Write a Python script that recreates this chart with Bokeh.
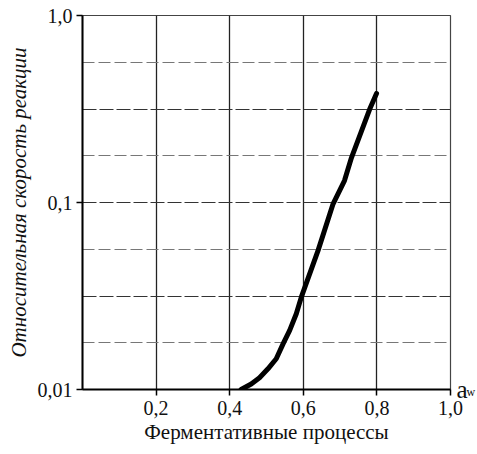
from bokeh.plotting import figure
from bokeh.models import FixedTicker, Range1d, Grid, LogAxis, LogScale
from bokeh.embed import file_html
from bokeh.resources import INLINE

# data
aw = [0.431, 0.4585, 0.481, 0.504, 0.5265, 0.545, 0.563, 0.581, 0.5946,
      0.640, 0.681, 0.712, 0.731, 0.780, 0.799]
rate = [0.0100, 0.0107, 0.01155, 0.0129, 0.0146, 0.01754, 0.0207, 0.0254, 0.0312,
        0.0553, 0.0984, 0.131, 0.174, 0.314, 0.383]

x_ticks = [0.2, 0.4, 0.6, 0.8, 1.0]
x_tick_labels = ["0,2", "0,4", "0,6", "0,8", "1,0"]
y_ticks = [0.01, 0.1, 1.0]
y_tick_labels = ["0,01", "0,1", "1,0"]
y_grid_main = [0.0316, 0.1, 0.316]
y_grid_minor = [0.0178, 0.0562, 0.178, 0.562]
x_min, x_max = 0.0, 1.0
y_min, y_max = 0.01, 1.0

FONT = "Liberation Serif"
FRAME_H = 374
# small upward shift (in px) of the subscript "w" of the a_w label
w_shift = 10 ** (-6 / (FRAME_H / 2))

p = figure(frame_width=368, frame_height=FRAME_H, y_axis_type="log",
           x_range=Range1d(x_min, x_max), y_range=Range1d(y_min, y_max),
           output_backend="svg", toolbar_location=None,
           min_border_left=82, min_border_right=20, min_border_top=15,
           min_border_bottom=60, background_fill_color="white",
           border_fill_color="white")
p.extra_y_ranges = {"w": Range1d(y_min * w_shift, y_max * w_shift)}
p.extra_y_scales = {"w": LogScale()}

p.outline_line_color = "#444444"
p.outline_line_width = 1.2

# grids
p.xgrid.ticker = FixedTicker(ticks=[0.2, 0.4, 0.6, 0.8])
p.xgrid.grid_line_color = "#222222"
p.xgrid.grid_line_width = 1.3
p.ygrid.ticker = FixedTicker(ticks=y_grid_main)
p.ygrid.grid_line_color = "#333333"
p.ygrid.grid_line_width = 1.2
p.ygrid.grid_line_dash = "14 3"
g2 = Grid(dimension=1, ticker=FixedTicker(ticks=y_grid_minor),
          grid_line_color="#777777", grid_line_width=1, grid_line_dash="12 4")
p.add_layout(g2)

# axes
p.xaxis.ticker = FixedTicker(ticks=x_ticks)
p.xaxis.major_label_overrides = dict(zip(x_ticks, x_tick_labels))
p.yaxis.ticker = FixedTicker(ticks=y_ticks)
p.yaxis.major_label_overrides = dict(zip(y_ticks, y_tick_labels))
for ax in (p.xaxis, p.yaxis):
    ax.axis_line_color = "black"
    ax.axis_line_width = 2
    ax.major_tick_line_color = "black"
    ax.major_tick_line_width = 1.5
    ax.major_tick_out = 6
    ax.major_tick_in = 0
    ax.minor_tick_line_color = None
    ax.major_label_text_font = FONT
    ax.major_label_text_font_size = "20px"
    ax.major_label_text_color = "#111111"
    ax.axis_label_text_font = FONT
    ax.axis_label_text_color = "#111111"

p.xaxis.major_label_standoff = 5
p.xaxis.axis_label = "Ферментативные процессы"
p.xaxis.axis_label_text_font_size = "21px"
p.xaxis.axis_label_text_font_style = "normal"
p.xaxis.axis_label_standoff = 2

p.yaxis.major_label_standoff = 4
p.yaxis.axis_label = "Относительная скорость реакции"
p.yaxis.axis_label_text_font_size = "21px"
p.yaxis.axis_label_text_font_style = "italic"
p.yaxis.axis_label_standoff = 4

# a_w label at the end of the x axis (as right-side tick labels at y = 0.01)
for txt, size, stand, rng in (("a", "25px", 6, "default"), ("\nw", "12px", -4, "w")):
    ax_r = LogAxis(ticker=FixedTicker(ticks=[y_min]), y_range_name=rng,
                   major_label_overrides={y_min: txt},
                   axis_line_color=None, major_tick_line_color=None,
                   minor_tick_line_color=None, major_tick_out=0, major_tick_in=0,
                   major_label_standoff=stand, major_label_text_font=FONT,
                   major_label_text_font_size=size, major_label_text_color="#111111")
    p.add_layout(ax_r, "right")

# curve
p.line(aw, rate, line_color="black", line_width=5, line_cap="round", line_join="round")

open("out.html", "w").write(file_html(p, INLINE))
